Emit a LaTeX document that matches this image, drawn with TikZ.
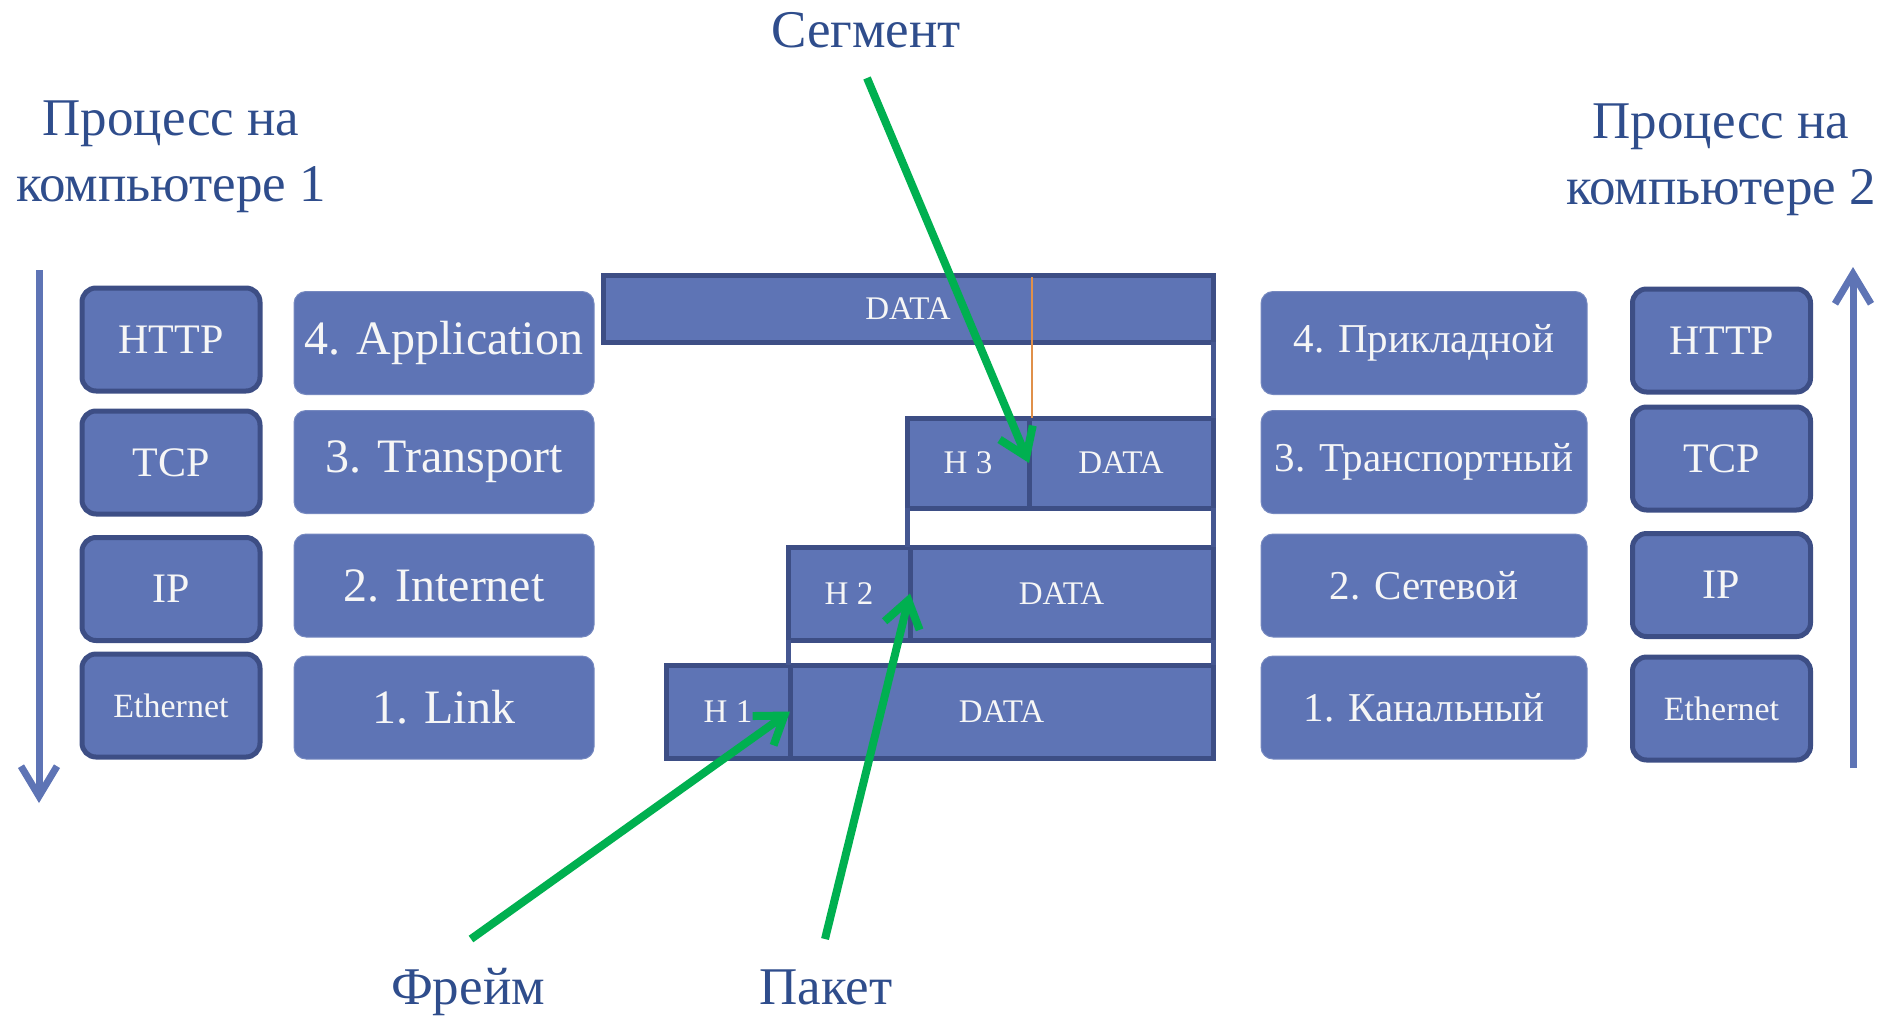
\documentclass[tikz,border=0pt]{standalone}
\usepackage{fontspec}
\setmainfont{Liberation Serif}
\usetikzlibrary{arrows.meta,calc}

\definecolor{boxfill}{HTML}{5E74B5}
\definecolor{boxedge}{HTML}{3D4E85}
\definecolor{titleblue}{HTML}{2F4D8C}
\definecolor{pointer}{HTML}{00B050}
\definecolor{seam}{HTML}{E0904A}
\definecolor{boxtext}{HTML}{F6F6F6}

\begin{document}
\begin{tikzpicture}[x=0.5pt,y=-0.5pt,
  proto/.style={fill=boxfill,draw=boxedge,line width=2.5pt,rounded corners=7pt,
    minimum width=89pt,minimum height=51.5pt,text=boxtext,inner sep=0pt,outer sep=0pt,
    font=\fontsize{21}{24}\selectfont},
  layerL/.style={fill=boxfill,draw=boxfill!85!white,line width=0.5pt,rounded corners=6pt,
    minimum width=150pt,minimum height=51.5pt,text=boxtext,inner sep=0pt,outer sep=0pt,
    font=\fontsize{24}{28}\selectfont},
  layerR/.style={layerL,minimum width=163pt,font=\fontsize{20.5}{24}\selectfont},
  piece/.style={fill=boxfill,draw=boxedge,line width=2.5pt,text=boxtext,inner sep=0pt,
    outer sep=0pt,font=\fontsize{16.5}{19}\selectfont},
  gapline/.style={draw=boxedge!75!boxfill,line width=2.5pt},
  title/.style={text=titleblue,inner sep=0pt,anchor=base,font=\fontsize{26.5}{30}\selectfont},
  tag/.style={text=titleblue,inner sep=0pt,anchor=base,font=\fontsize{26.5}{30}\selectfont},
  flow/.style={draw=boxfill,line width=3.5pt,-{Straight Barb[length=15pt,width=18pt]}},
  ptr/.style={draw=pointer,line width=4pt,-{Straight Barb[length=13pt,width=18pt]}}]

\useasboundingbox (0,0) rectangle (1893,1017);

% headings of the two hosts
\node[title] (t1a) at (171,135) {Процесс на};
\node[title] (t1b) at (171,201) {компьютере 1};
\node[title] (t2a) at (1721,138) {Процесс на};
\node[title] (t2b) at (1721,204) {компьютере 2};

% direction of travel through each stack
\coordinate (downtop) at (39,270);
\coordinate (downend) at (39,803);
\draw[flow] (downtop) -- (downend);
\coordinate (upbot) at (1853,768);
\coordinate (uptop) at (1853,267);
\draw[flow] (upbot) -- (uptop);

% protocols, host 1
\node[proto] (lhttp) at (171,339.5) {HTTP};
\node[proto] (ltcp)  at (171,462.5) {TCP};
\node[proto] (lip)   at (171,589)   {IP};
\node[proto,font=\fontsize{17}{20}\selectfont] (leth) at (171,705.5) {Ethernet};

% layers, host 1
\node[layerL] (lapp)  at (444,343)   {4. Application};
\node[layerL] (ltrn)  at (444,462)   {3. Transport};
\node[layerL] (lnet)  at (444,585.5) {2. Internet};
\node[layerL] (llink) at (444,707.5) {1. Link};

% layers, host 2
\node[layerR] (rapp)  at (1424,343)   {4. Прикладной};
\node[layerR] (rtrn)  at (1424,462)   {3. Транспортный};
\node[layerR] (rnet)  at (1424,585.5) {2. Сетевой};
\node[layerR] (rlink) at (1424,707.5) {1. Канальный};

% protocols, host 2
\node[proto] (rhttp) at (1721.5,340.5) {HTTP};
\node[proto] (rtcp)  at (1721.5,458.5) {TCP};
\node[proto] (rip)   at (1721.5,585)   {IP};
\node[proto,font=\fontsize{17}{20}\selectfont] (reth) at (1721.5,708.5) {Ethernet};

% encapsulation: application data, then headers added layer by layer
\node[piece,minimum width=305pt,minimum height=33.5pt] (data4) at (908,308.5) {DATA};

\node[piece,minimum width=61pt,minimum height=45pt]  (hd3)   at (968,463)  {H 3};
\node[piece,minimum width=92pt,minimum height=45pt]  (data3) at (1121,463) {DATA};

\node[piece,minimum width=61pt,minimum height=46.5pt]    (hd2)   at (849,593.5)    {H 2};
\node[piece,minimum width=151.5pt,minimum height=46.5pt] (data2) at (1061.5,593.5) {DATA};

\node[piece,minimum width=62pt,minimum height=46.5pt]    (hd1)   at (728,711.5)    {H 1};
\node[piece,minimum width=211.5pt,minimum height=46.5pt] (data1) at (1001.5,711.5) {DATA};

% outlines of the gaps between the rows
\draw[gapline] (data4.south east) -- (data3.north east);
\draw[gapline] (data3.south east) -- (data2.north east);
\draw[gapline] (data2.south east) -- (data1.north east);
\draw[gapline] (hd3.south west) -- (hd3.south west |- hd2.north);
\draw[gapline] (hd2.south west) -- (hd2.south west |- hd1.north);

% boundary of the segment's payload, marked across the application data
\draw[seam,line width=0.9pt] ($(data3.north west)+(3,0)$) -- ($(data3.north west |- data4.north)+(3,2)$);

% names of the units
\node[tag] (segname) at (866,47)   {Сегмент};
\node[tag] (frmname) at (468,1004) {Фрейм};
\node[tag] (pktname) at (826,1004) {Пакет};

\coordinate (segtail) at (867,78);
\coordinate (frmtail) at (471,939);
\coordinate (pkttail) at (825,939);
\draw[ptr] (segtail) -- (data3.west);
\draw[ptr] (frmtail) -- (data1.west);
\draw[ptr] (pkttail) -- (data2.west);

\end{tikzpicture}
\end{document}
